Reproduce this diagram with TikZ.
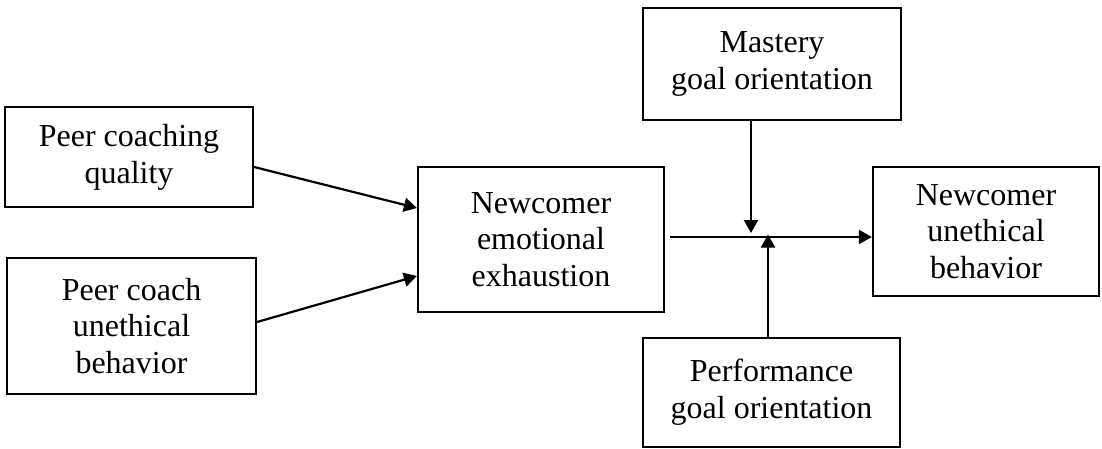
\documentclass[tikz,border=0pt]{standalone}
\usepackage{fontspec}
\setmainfont{Liberation Serif}
\usetikzlibrary{arrows.meta}
\begin{document}
\begin{tikzpicture}[x=0.5pt,y=-0.5pt]
\tikzstyle{box}=[draw, line width=1.1pt, align=center, inner sep=0pt, font=\fontsize{16}{18.4}\selectfont]
\tikzstyle{arr}=[line width=1.1pt, -{Triangle[length=6.5pt,width=7pt]}]
\useasboundingbox (0,0) rectangle (1102,449);

\node[box, minimum width=124pt, minimum height=50pt] (pcq) at (129,157) {Peer coaching\\quality};
\node[box, minimum width=124.5pt, minimum height=68pt] (pcub) at (131.5,326) {Peer coach\\unethical\\behavior};
\node[box, minimum width=123pt, minimum height=72.5pt] (nee) at (541,239.5) {Newcomer\\emotional\\exhaustion};
\node[box, minimum width=129pt, minimum height=56pt] (mgo) at (772,64) {Mastery\\goal orientation};
\node[box, minimum width=128.5pt, minimum height=54.5pt] (pgo) at (771.5,392.5) {Performance\\goal orientation};
\node[box, minimum width=113pt, minimum height=64.5pt] (nub) at (986,231.5) {Newcomer\\unethical\\behavior};

\draw[arr] ([yshift=-5pt]pcq.east) -- ([yshift=15.75pt]nee.west);
\draw[arr] ([yshift=2pt]pcub.east) -- ([yshift=-18.25pt]nee.west);

\coordinate (ln) at ([xshift=2.5pt,yshift=1.25pt]nee.east);
\draw[arr] (ln) -- (ln -| nub.west);

% moderators
\coordinate (mbot) at ([xshift=-10.5pt]mgo.south);
\coordinate (ptop) at ([xshift=-1.75pt]pgo.north);
\draw[arr, shorten >=2pt] (mbot) -- (mbot |- ln);
\draw[arr, shorten >=-1.25pt] (ptop) -- (ptop |- ln);

\end{tikzpicture}
\end{document}
